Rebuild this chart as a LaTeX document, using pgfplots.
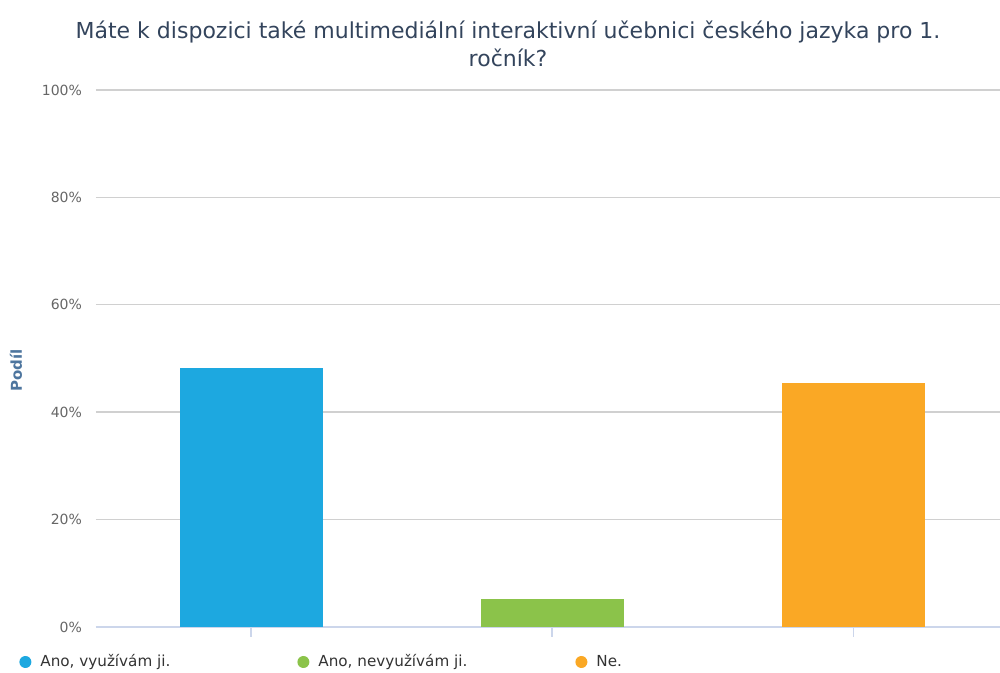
\documentclass[border=0pt]{standalone}
\usepackage{fontspec}
\setmainfont{DejaVu Sans}
\usepackage{pgfplots}
\pgfplotsset{compat=1.18}
\definecolor{hcBlue}{RGB}{29,168,224}
\definecolor{hcGreen}{RGB}{139,195,74}
\definecolor{hcOrange}{RGB}{250,168,37}
\definecolor{hcTitle}{RGB}{51,68,92}
\definecolor{hcAxisTitle}{RGB}{77,117,158}
\definecolor{hcGrid}{RGB}{208,208,208}
\definecolor{hcAxis}{RGB}{204,214,235}
\definecolor{hcLabel}{RGB}{102,102,102}
\definecolor{hcLegend}{RGB}{51,51,51}

\begin{document}
\begin{tikzpicture}
% page = 1000x673 px, 1 px = 0.5pt
\useasboundingbox (0,0) rectangle (500pt,336.5pt);
\node[font=\fontsize{11}{14}\selectfont, text=hcTitle, align=center]
  at (254pt,314.5pt)
  {Máte k dispozici také multimediální interaktivní učebnici českého jazyka pro 1.\\ročník?};
\begin{axis}[
    at={(48pt,23pt)}, anchor=south west,
    scale only axis,
    width=452pt, height=268.5pt,
    xmin=-0.515, xmax=2.488,
    ymin=0, ymax=100,
    ybar, bar shift=0pt, bar width=71.5pt,
    xtick={0,1,2}, xticklabels={},
    major x tick style={draw=hcAxis, line width=0.6pt},
    xtick align=outside, major tick length=5pt,
    ytick={0,20,40,60,80,100},
    yticklabel={\pgfmathprintnumber{\tick}\%},
    /pgf/number format/assume math mode=true,
    y tick label style={font=\fontsize{7}{8}\selectfont, text=hcLabel},
    major y tick style={draw=none},
    yticklabel shift=3.5pt,
    ymajorgrids, grid style={hcGrid, line width=0.7pt},
    axis x line*=bottom, axis y line*=left,
    y axis line style={draw=none},
    x axis line style={hcAxis, line width=0.6pt, -},
    ylabel={\textbf{Podíl}},
    ylabel style={at={(axis description cs:-0.0885,0.478)}, anchor=center,
                  rotate=0, font=\fontsize{7.5}{9}\selectfont, text=hcAxisTitle},
    legend columns=3,
    legend style={at={(rel axis cs:0,0)}, anchor=west, xshift=-38.5pt, yshift=-17.5pt,
                  draw=none, fill=none, inner sep=0pt,
                  nodes={inner sep=0pt, font=\fontsize{7.6}{9}\selectfont, text=hcLegend},
                  /tikz/every odd column/.append style={column sep=4.5pt}},
    legend image code/.code={\fill[#1] (3pt,0pt) circle (3pt);},
]
\addplot[fill=hcBlue, draw=none] coordinates {(0,48.2)};
\addlegendentry{\makebox[128.5pt][l]{Ano, využívám ji.}}
\addplot[fill=hcGreen, draw=none] coordinates {(1,5.2)};
\addlegendentry{\makebox[128.5pt][l]{Ano, nevyužívám ji.}}
\addplot[fill=hcOrange, draw=none] coordinates {(2,45.4)};
\addlegendentry{\makebox[128.5pt][l]{Ne.}}
\end{axis}
\end{tikzpicture}
\end{document}
